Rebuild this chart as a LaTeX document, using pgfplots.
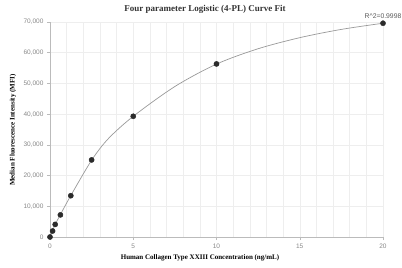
\documentclass[border=0pt]{standalone}
\usepackage{fontspec}
\setmainfont{Liberation Serif}
\newfontfamily\sansf{Liberation Sans}
\usepackage{pgfplots}
\pgfplotsset{compat=1.18}
\definecolor{gridc}{HTML}{EEEEEE}
\definecolor{axc}{HTML}{BBBBBB}
\definecolor{tickc}{HTML}{888888}
\definecolor{curvec}{HTML}{999999}
\definecolor{ptc}{HTML}{2B2B2B}
\begin{document}
\begin{tikzpicture}
\useasboundingbox (-50pt,-31pt) rectangle (352pt,237pt);
\begin{axis}[
  at={(0pt,0pt)}, anchor=south west,
  scale only axis, width=333pt, height=215pt,
  xmin=0, xmax=20, ymin=0, ymax=70000,
  axis x line*=bottom, axis y line*=left,
  axis line style={draw=axc, line width=0.6pt},
  xtick={0,5,10,15,20}, minor xtick={1,2,3,4,6,7,8,9,11,12,13,14,16,17,18,19},
  ytick={0,10000,20000,30000,40000,50000,60000,70000},
  grid=both,
  major grid style={draw=gridc, line width=0.5pt},
  minor grid style={draw=gridc, line width=0.5pt},
  tick style={draw=axc, line width=0.5pt},
  major tick length=3pt, minor tick length=0pt,
  tick align=outside,
  ticklabel style={font=\sansf\fontsize{6.5}{7}\selectfont, text=tickc},
  /pgf/number format/assume math mode=true,
  scaled y ticks=false,
  yticklabel style={/pgf/number format/1000 sep={,}},
  clip=false,
]
\addplot[curvec, line width=0.7pt, smooth, tension=0.5] coordinates {
(0,0) (0.156,2000) (0.3125,4100) (0.625,7300) (1.25,13500) (2.5,25000)
(3.5,32000) (5,39300) (7.5,49000) (10,56300) (12.5,61300) (15,64900)
(17.5,67600) (20,69600)};
\addplot[only marks, mark=*, mark size=2.6pt, mark options={fill=ptc, draw=ptc}] coordinates {
(0,0) (0.156,1950) (0.3125,4100) (0.625,7200) (1.25,13450) (2.5,25100)
(5,39300) (10,56350) (20,69600)};
\node[font=\sansf\fontsize{6.8}{7}\selectfont, text=black!65, anchor=south, inner sep=0pt] at (axis cs:20,69600) [yshift=4pt] {R\^{}2=0.9998};
\end{axis}
\node[font=\bfseries\fontsize{9}{10}\selectfont, text=black!80] at (155pt,228pt) {Four parameter Logistic (4-PL) Curve Fit};
\node[font=\bfseries\fontsize{7}{8}\selectfont] at (150pt,-21pt) {Human Collagen Type XXIII Concentration (ng/mL)};
\node[font=\bfseries\fontsize{7}{8}\selectfont, rotate=90] at (-37pt,107pt) {Median Fluorescence Intensity (MFI)};
\end{tikzpicture}
\end{document}
